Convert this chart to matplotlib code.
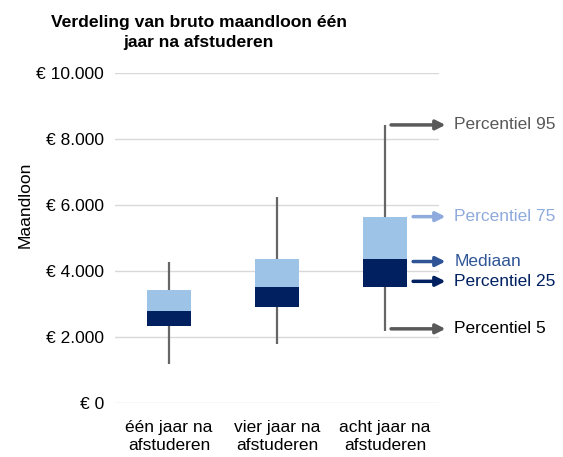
import numpy as np
import matplotlib
matplotlib.rc('font', family=['Liberation Sans', 'DejaVu Sans'], size=12.5)
import matplotlib.pyplot as plt

categories = ['één jaar na\nafstuderen', 'vier jaar na\nafstuderen', 'acht jaar na\nafstuderen']
p5  = [1180, 1790, 2170]
p25 = [2340, 2900, 3530]
p50 = [2780, 3520, 4360]
p75 = [3430, 4360, 5650]
p95 = [4290, 6250, 8430]

yticks = [0, 2000, 4000, 6000, 8000, 10000]
ytick_labels = ['€ 0', '€ 2.000', '€ 4.000', '€ 6.000', '€ 8.000', '€ 10.000']

legend_labels = ['Percentiel 95', 'Percentiel 75', 'Mediaan', 'Percentiel 25', 'Percentiel 5']
legend_y      = [8430, 5650, 4290, 3690, 2250]
legend_long   = [True, False, False, False, True]
arrow_colors  = ['#595959', '#8FAADC', '#2F5597', '#002060', '#595959']
text_colors   = ['#595959', '#8FAADC', '#2F5597', '#002060', '#000000']

if __name__ == '__main__':
    fig = plt.figure(figsize=(5.63, 4.57), dpi=100)
    ax = fig.add_axes([0.2043, 0.118, 0.5755, 0.722])
    x = np.arange(len(categories))
    w = 0.41

    ax.vlines(x, p5, p95, color='#666666', lw=1.6, zorder=2)
    ax.bar(x, np.array(p50) - np.array(p25), bottom=p25, width=w, color='#002060', zorder=3)
    ax.bar(x, np.array(p75) - np.array(p50), bottom=p50, width=w, color='#9DC3E6', zorder=3)

    for lab, yv, long, ac, tc in zip(legend_labels, legend_y, legend_long, arrow_colors, text_colors):
        x0 = 2.056 if long else 2.26
        ax.annotate('', xy=(2.56, yv), xytext=(x0, yv), xycoords='data',
                    arrowprops=dict(arrowstyle='-|>', lw=2.5, color=ac,
                                    mutation_scale=14, shrinkA=0, shrinkB=0),
                    annotation_clip=False)
        ax.text(2.64, yv, lab, color=tc, va='center', ha='left', fontsize=12.5, clip_on=False)

    ax.set(
        xlim=(-0.5, 2.5),
        ylim=(0, 10000),
        xticks=x,
        yticks=yticks,
    )
    ax.set_xticklabels(categories, linespacing=1.3)
    ax.set_yticklabels(ytick_labels)
    ax.tick_params(length=0, pad=8)
    ax.tick_params(axis='x', pad=12)
    ax.grid(axis='y', color='#D9D9D9', lw=1)
    ax.set_axisbelow(True)
    for s in ax.spines.values():
        s.set_visible(False)
    ax.set_ylabel('Maandloon', fontsize=12.5)
    ax.yaxis.set_label_coords(-0.255, 0.6)

    fig.text(0.353, 0.929, 'Verdeling van bruto maandloon één\njaar na afstuderen',
             ha='center', va='center', fontsize=12.6, fontweight='bold', linespacing=1.35)

    fig.savefig('out.png', dpi=100)
    plt.close(fig)
